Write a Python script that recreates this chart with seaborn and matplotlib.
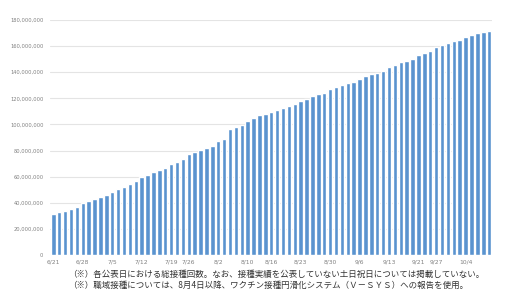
import matplotlib
matplotlib.use("Agg")
import matplotlib.pyplot as plt
import seaborn as sns
import pandas as pd
from matplotlib.ticker import FuncFormatter, MultipleLocator

# Publication dates (weekdays, holidays excluded)
dates = [
    "6/21", "6/22", "6/23", "6/24", "6/25",
    "6/28", "6/29", "6/30", "7/1", "7/2",
    "7/5", "7/6", "7/7", "7/8", "7/9",
    "7/12", "7/13", "7/14", "7/15", "7/16",
    "7/19", "7/20", "7/21",
    "7/26", "7/27", "7/28", "7/29", "7/30",
    "8/2", "8/3", "8/4", "8/5", "8/6",
    "8/10", "8/11", "8/12", "8/13",
    "8/16", "8/17", "8/18", "8/19", "8/20",
    "8/23", "8/24", "8/25", "8/26", "8/27",
    "8/30", "8/31", "9/1", "9/2", "9/3",
    "9/6", "9/7", "9/8", "9/9", "9/10",
    "9/13", "9/14", "9/15", "9/16", "9/17",
    "9/21", "9/22", "9/24",
    "9/27", "9/28", "9/29", "9/30", "10/1",
    "10/4", "10/5", "10/6", "10/7", "10/8",
]

# Total vaccinations (millions of doses)
total_millions = [
    31.2, 32.7, 33.7, 35.2, 36.8,
    39.8, 41.4, 43.1, 44.4, 46.0,
    48.5, 50.3, 52.3, 54.4, 56.5,
    59.5, 61.5, 63.2, 64.9, 66.4,
    69.7, 71.3, 73.3,
    77.4, 78.9, 80.7, 82.2, 83.5,
    87.1, 88.7, 96.3, 97.9, 99.4,
    102.4, 105.3, 106.9, 107.8,
    109.5, 110.9, 112.9, 114.4, 115.5,
    118.0, 119.8, 121.6, 123.1, 124.1,
    127.2, 128.5, 130.5, 131.6, 132.8,
    135.1, 136.8, 138.6, 139.7, 141.0,
    144.1, 145.8, 147.6, 148.7, 149.9,
    153.0, 154.8, 156.3,
    159.6, 160.9, 162.2, 163.7, 165.0,
    167.0, 168.6, 170.1, 170.9, 171.6,
]

tick_dates = ["6/21", "6/28", "7/5", "7/12", "7/19", "7/26", "8/2", "8/10",
              "8/16", "8/23", "8/30", "9/6", "9/13", "9/21", "9/27", "10/4"]

notes = [
    "（※）各公表日における総接種回数。なお、接種実績を公表していない土日祝日については掲載していない。",
    "（※）職域接種については、8月4日以降、ワクチン接種円滑化システム（Ｖ－ＳＹＳ）への報告を使用。",
]

sns.set_theme(style="white")
plt.rcParams['font.family'] = ['Noto Sans CJK JP', 'DejaVu Sans']

df = pd.DataFrame({"date": dates, "total": [v * 1e6 for v in total_millions]})

fig = plt.figure(figsize=(5.05, 2.93), dpi=100)
ax = fig.add_axes([50.4 / 505, 38 / 293, 441.7 / 505, 235 / 293])

sns.barplot(data=df, x="date", y="total", order=dates, color="#5A93CF",
            saturation=1, width=0.76, ax=ax)

ax.set_xlim(-0.5, len(dates) - 0.5)
ax.set_ylim(0, 180e6)
ax.yaxis.set_major_locator(MultipleLocator(20e6))
ax.yaxis.set_major_formatter(FuncFormatter(lambda v, p: f"{v:,.0f}"))
ax.set_xticks([dates.index(d) for d in tick_dates])
ax.set_xticklabels(tick_dates)

ax.tick_params(axis="y", length=0, pad=5, labelsize=3.7, labelcolor="#808080")
ax.tick_params(axis="x", length=0, pad=3.5, labelsize=4.3, labelcolor="#808080")
for lab in ax.get_yticklabels() + ax.get_xticklabels():
    lab.set_fontfamily("DejaVu Sans")

ax.yaxis.grid(True, color="#e4e4e4", linewidth=0.8)
ax.xaxis.grid(False)
ax.set_axisbelow(True)
ax.set_xlabel("")
ax.set_ylabel("")
sns.despine(ax=ax, left=True, bottom=True)

fig.text(68 / 505, 1 - 274 / 293, notes[0], fontsize=6.1, ha="left", va="center", color="#333333")
fig.text(68 / 505, 1 - 285 / 293, notes[1], fontsize=6.1, ha="left", va="center", color="#333333")

fig.savefig("out.png", dpi=100)
